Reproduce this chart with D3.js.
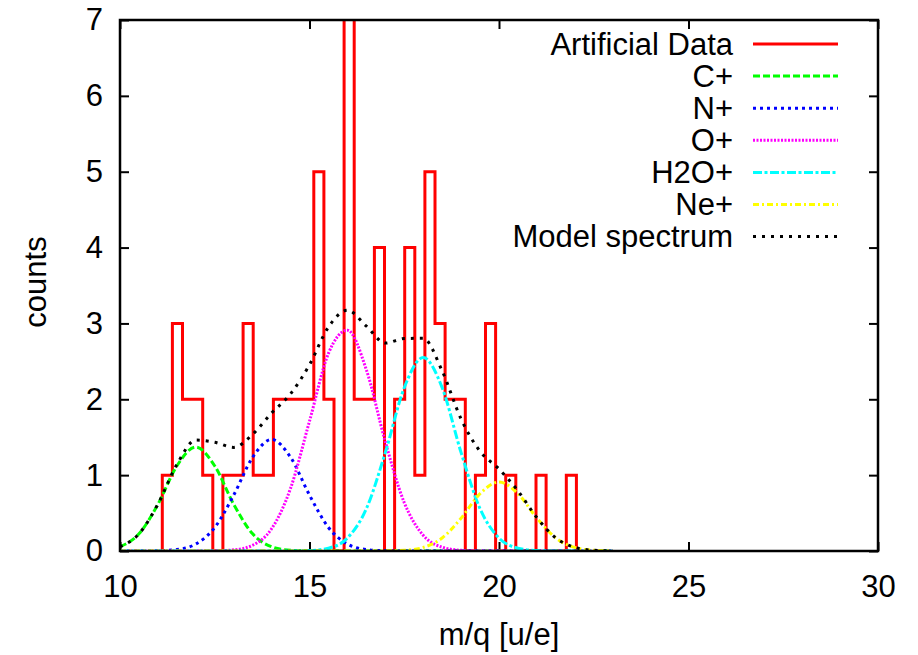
<!DOCTYPE html>
<html>
<head>
<meta charset="utf-8">
<script src="https://cdn.jsdelivr.net/npm/d3@7"></script>
<style>
  body { margin: 0; background: #fff; }
  svg text { font-family: "Liberation Sans", Arial, sans-serif; fill: #000; }
</style>
</head>
<body>
<div id="chart"></div>
<script>
// axis ticks
const xTicks = [10, 15, 20, 25, 30];
const yTicks = [0, 1, 2, 3, 4, 5, 6, 7];

// histogram of the artificial data (41 bins)
const binStart = 11.116;
const binWidth = 0.2665;
const binCounts = [1, 3, 2, 2, 1, 0, 1, 1, 3, 1, 1, 2, 2, 2, 2, 5, 2, 0, 8, 2,
  2, 4, 0, 2, 4, 1, 5, 3, 2, 2, 0, 1, 3, 0, 1, 0, 0, 1, 0, 0, 1];

const curveX = [10, 10.5, 11, 11.5, 12, 12.5, 13, 13.5, 14, 14.5, 15, 15.5, 16, 16.5,
  17, 17.5, 18, 18.5, 19, 19.5, 20, 20.5, 21, 21.5, 22, 22.5, 23];
const cPlus = [0.056, 0.226, 0.615, 1.121, 1.37, 1.121, 0.615, 0.226, 0.056, 0.009, 0.001,
  0, 0, 0, 0, 0, 0, 0, 0, 0, 0, 0, 0, 0, 0, 0, 0];
const nPlus = [0, 0, 0.003, 0.019, 0.092, 0.31, 0.736, 1.236, 1.47, 1.236, 0.736, 0.31,
  0.092, 0.019, 0.003, 0, 0, 0, 0, 0, 0, 0, 0, 0, 0, 0, 0];
const oPlus = [0, 0, 0, 0, 0, 0.002, 0.015, 0.076, 0.293, 0.826, 1.712, 2.605, 2.911,
  2.389, 1.44, 0.638, 0.207, 0.05, 0.009, 0.001, 0, 0, 0, 0, 0, 0, 0];
const h2oPlus = [0, 0, 0, 0, 0, 0, 0, 0, 0, 0.001, 0.006, 0.037, 0.171, 0.557, 1.297,
  2.153, 2.55, 2.153, 1.297, 0.557, 0.171, 0.037, 0.006, 0.001, 0, 0, 0];
const nePlus = [0, 0, 0, 0, 0, 0, 0, 0, 0, 0, 0, 0, 0, 0, 0.001, 0.009, 0.047, 0.171,
  0.433, 0.756, 0.91, 0.756, 0.433, 0.171, 0.047, 0.009, 0.001];
const modelSpectrum = [0.056, 0.226, 0.618, 1.14, 1.462, 1.433, 1.366, 1.538, 1.819,
  2.072, 2.455, 2.952, 3.174, 2.965, 2.741, 2.8, 2.804, 2.374, 1.739, 1.314, 1.081,
  0.793, 0.439, 0.172, 0.047, 0.009, 0.001];

const width = 918, height = 655;
const margin = { top: 20, right: 40, bottom: 104, left: 120 };
const plotW = width - margin.left - margin.right;
const plotH = height - margin.top - margin.bottom;

const x = d3.scaleLinear().domain([10, 30]).range([0, plotW]);
const y = d3.scaleLinear().domain([0, 7]).range([plotH, 0]);

const svg = d3.select("#chart").append("svg")
  .attr("width", width)
  .attr("height", height);

svg.append("defs").append("clipPath").attr("id", "plotClip")
  .append("rect").attr("width", plotW).attr("height", plotH);

const g = svg.append("g").attr("transform", `translate(${margin.left},${margin.top})`);

// ticks (inward, mirrored like gnuplot)
const tickLen = 9;
const fontSize = 31;

g.append("g")
  .call(d3.axisLeft(y).tickValues(yTicks).tickFormat(d3.format("d"))
    .tickSize(-tickLen).tickPadding(17));
g.append("g").attr("transform", `translate(0,${plotH})`)
  .call(d3.axisBottom(x).tickValues(xTicks).tickFormat(d3.format("d"))
    .tickSize(-tickLen).tickPadding(24));
g.append("g").attr("transform", `translate(${plotW},0)`)
  .call(d3.axisRight(y).tickValues(yTicks).tickSize(-tickLen).tickFormat(""));
g.append("g")
  .call(d3.axisTop(x).tickValues(xTicks).tickSize(-tickLen).tickFormat(""));

g.selectAll(".domain").remove();
g.selectAll(".tick line").attr("stroke", "#000").attr("stroke-width", 2);
g.selectAll(".tick text").attr("font-size", fontSize).attr("font-family", null);

// data
const plot = g.append("g").attr("clip-path", "url(#plotClip)");

const histPoints = [[binStart, 0]]
  .concat(binCounts.map((c, i) => [binStart + i * binWidth, c]))
  .concat([[binStart + binCounts.length * binWidth, 0]]);

plot.append("path")
  .datum(histPoints)
  .attr("fill", "none")
  .attr("stroke", "#ff0000")
  .attr("stroke-width", 3)
  .attr("d", d3.line().x(d => x(d[0])).y(d => y(d[1])).curve(d3.curveStepAfter));

const series = [
  { name: "C+", values: cPlus, color: "#00ff00", dash: "7,3" },
  { name: "N+", values: nPlus, color: "#0000ff", dash: "3,4" },
  { name: "O+", values: oPlus, color: "#ff00ff", dash: "2,1.5" },
  { name: "H2O+", values: h2oPlus, color: "#00ffff", dash: "9,2.5,3,2.5" },
  { name: "Ne+", values: nePlus, color: "#ffff00", dash: "6,3,2,3" },
  { name: "Model spectrum", values: modelSpectrum, color: "#000000", dash: "3,6" },
];

const curveLine = d3.line()
  .x((d, i) => x(curveX[i]))
  .y(d => y(d))
  .curve(d3.curveMonotoneX);

series.forEach(s => {
  plot.append("path")
    .datum(s.values)
    .attr("fill", "none")
    .attr("stroke", s.color)
    .attr("stroke-width", 3)
    .attr("stroke-dasharray", s.dash)
    .attr("d", curveLine);
});

// border
g.append("rect")
  .attr("width", plotW)
  .attr("height", plotH)
  .attr("fill", "none")
  .attr("stroke", "#000")
  .attr("stroke-width", 2.5);

// legend
const legendItems = [{ name: "Artificial Data", color: "#ff0000", dash: null }].concat(series);
const legend = g.append("g");
legendItems.forEach((d, i) => {
  const ly = 24 + i * 32.1;
  legend.append("text")
    .attr("x", 613)
    .attr("y", ly)
    .attr("dy", "0.35em")
    .attr("text-anchor", "end")
    .attr("font-size", fontSize)
    .text(d.name);
  legend.append("line")
    .attr("x1", 633).attr("x2", 718)
    .attr("y1", ly).attr("y2", ly)
    .attr("stroke", d.color)
    .attr("stroke-width", 3)
    .attr("stroke-dasharray", d.dash);
});

// axis titles
svg.append("text")
  .attr("transform", "translate(35,282) rotate(-90)")
  .attr("text-anchor", "middle")
  .attr("dy", "0.35em")
  .attr("font-size", fontSize)
  .text("counts");

svg.append("text")
  .attr("x", margin.left + plotW / 2)
  .attr("y", 634)
  .attr("text-anchor", "middle")
  .attr("dy", "0.35em")
  .attr("font-size", fontSize)
  .text("m/q [u/e]");
</script>
</body>
</html>
